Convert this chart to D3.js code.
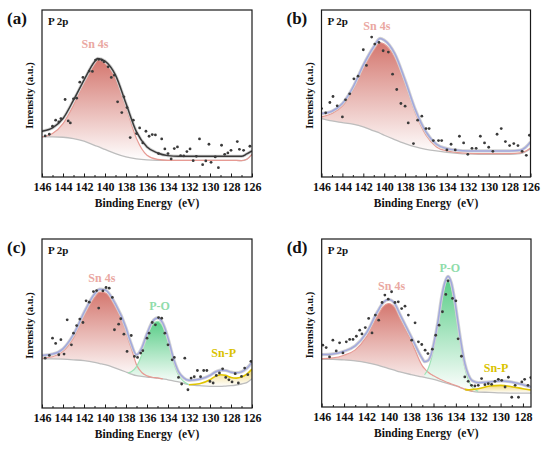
<!DOCTYPE html>
<html lang="en">
<head>
<meta charset="UTF-8">
<title>P 2p</title>
<script src="https://d3js.org/d3.v7.min.js"></script>
<style>
  body { margin: 0; background: #fff; }
  svg text { font-family: "Liberation Serif", "DejaVu Serif", serif !important; font-weight: bold; }
</style>
</head>
<body>
<svg width="550" height="450" font-family="Liberation Serif, DejaVu Serif, serif"></svg>
<script>
// ---- (a) ----
const gridA = [146,145,144,143,142,141,140.7,140,139,138,137,136,135,134,133,132,131,130,129,128,127,126.5,126];
const bgA   = [24,24,23.8,23,21.5,19,18.3,16.5,14,12,10.8,10.2,10,10,10,10,10,10,10,10,9.8,10.6,13.6];
const sn4sA = [24,26,32,43,56,67.5,70,68,59.5,42,23,13,10.5,10,10,10,10,10,10,10,9.8,10.6,13.6];
const envA  = [27.4,29.4,35,46,58,69,71,69.4,61,44,27,18,14.4,12.8,12.4,12.4,12.4,12.4,12.4,12.4,12.4,13.8,15.6];
const dotsA = [[145.7,24.6],[145.3,25.6],[145.0,30.4],[144.7,34],[144.4,33],[144.2,35],[143.8,46.4],[143.5,33.6],
  [143.3,32.4],[143.0,46.8],[142.7,47.2],[142.4,56.8],[142.1,59.6],[141.5,63.4],[141.2,63.2],[140.9,70],[140.6,70.4],
  [140.3,70],[140.1,69],[139.7,66],[139.4,59.6],[139.1,61],[138.8,45],[138.4,38.6],[138.2,48],[137.9,41.6],[137.6,23.6],
  [137.3,34],[137.0,26],[136.7,29.4],[136.4,20.4],[136.1,27.4],[135.8,24.4],[135.5,25.4],[135.2,25.2],[134.9,14],
  [134.6,22.8],[134.3,16.8],[134.0,14],[133.7,10.8],[133.4,17],[133.1,18],[132.8,12.8],[132.5,12.6],[132.2,15.2],
  [131.9,16.8],[131.6,9.8],[131.3,12.4],[131.0,22.8],[130.7,7.4],[130.4,9.6],[130.1,19.6],[129.9,8.8],[129.5,12],
  [129.2,5.6],[128.9,19],[128.6,13.6],[128.3,14.4],[128.0,16],[127.4,21.2],[127.2,16.6],[126.8,16],[126.2,18.4]];

// ---- (b) ----
const gridB = [146,145,144,143,142,141,140.4,140,139,138,137,136,135,134,133,132,131,130,129,128,127,126.5,126];
const bgB   = [35,33.6,32.6,31.6,30,27.6,26.2,25,22.4,20,18,16.6,15.6,14.8,14.2,13.8,13.6,13.6,13.6,13.6,14,15,17];
const sn4sB = [36,38,42.4,52,65,76,80.4,79.6,71.6,56,38,25,18,15.6,14.6,14.2,14,14,14,14,14.4,15.4,17.4];
const envB  = [38,39.4,44,53.6,67,78,83,82,74,58,40,27,19.6,17,16,15.6,15.6,15.6,15.6,15.6,16,17.6,21];
const dotsB = [[146.0,41],[145.6,38.4],[145.2,44.6],[144.9,48.2],[144.5,42.6],[144.0,36],[143.7,46.2],[143.3,49.8],
  [142.9,58.8],[142.5,60.4],[142.0,76.2],[141.7,66.8],[141.2,83.8],[140.9,79.6],[140.5,80.6],[140.1,75.6],[139.6,74.8],
  [139.2,61.6],[138.8,52.4],[138.4,44],[138.0,42.4],[137.7,32.4],[137.2,20],[136.8,34],[136.4,36.4],[136.0,29],
  [135.7,29],[135.3,21.8],[134.8,21.8],[134.5,21.8],[134.0,16.2],[133.6,19.6],[133.2,16.2],[132.8,24.4],[132.4,20.4],
  [132.0,13.6],[131.6,17.2],[131.2,17.2],[130.8,24.4],[130.4,20.4],[130.0,17.8],[129.6,15.4],[129.2,25.6],[128.8,29],
  [128.4,21.2],[128.0,18.8],[127.6,20],[127.2,18.8],[126.8,15.4],[126.4,13],[126.1,25]];

// ---- (c) ----
const gridC = [146,145,144,143,142,141,140.5,140,139,138,137.8,137.5,137,136.5,136,135.5,135,134.5,134,133.5,133,132.5,132,131,130,129.5,129,128.5,128,127.5,127,126.5,126];
const bgC   = [29.1,29.1,28.9,28.5,28,27,26.3,25.6,23.6,21.3,20.8,20.1,19.1,18.7,18.3,18,17.7,17.2,16.7,16,15.4,14.6,13.8,13.2,12.8,12.8,12.8,13,13.2,13.6,14.2,15,17.3];
const sn4sC = [29.5,30.3,33.5,41.5,54.5,65.5,68.6,68.2,59.5,45.5,41,35.5,25.6,21,19,18.2,17.8,17.2,
  null,null,null,null,null,null,null,null,null,null,null,null,null,null,null];
const poC   = [null,null,null,null,null,null,null,null,null,null,20.8,21.5,24.5,31.5,42,49.2,51.2,48.2,39.4,27.6,19.5,15.7,13.8,
  null,null,null,null,null,null,null,null,null,null];
const snpC  = [null,null,null,null,null,null,null,null,null,null,null,null,null,null,null,null,null,null,null,null,null,null,
  13.8,14.4,16.7,18.7,19.7,19.3,18.1,17.7,18.3,20,23];
const envC  = [31.1,31.9,35,43.5,56.5,67.4,70.3,70,61.5,47.5,43.5,38,31.5,35.5,44,51,53.3,50.3,41.5,29.8,21.5,17.8,16.4,17,19.3,21.3,22.4,22.2,21.2,20.8,21.4,23.5,27];
const dotsC = [[145.7,29.5],[145.3,31.1],[145.0,41.3],[144.7,38.2],[144.4,31.5],[144.2,40.4],[143.9,31.9],[143.6,52.2],
  [143.2,37.4],[143.0,44.3],[142.7,48.8],[142.4,52.6],[142.1,50.6],[141.8,63.4],[141.5,62.6],[141.1,68.9],[140.8,69.5],
  [140.6,59.1],[140.2,69.3],[139.9,71.3],[139.6,70.9],[139.3,65.4],[139.1,46.3],[138.7,49.6],[138.5,52.8],[138.2,43.7],
  [137.9,33.5],[137.5,42.9],[137.2,30.5],[136.9,29.9],[136.6,32.5],[136.4,33.9],[136.0,41.3],[135.8,44.3],[135.5,50.6],
  [135.2,49.2],[134.9,53.5],[134.6,53.1],[134.3,44.3],[134.0,37.4],[133.6,28.5],[133.4,29.9],[133.0,18.1],[132.7,14.2],
  [132.4,29.5],[132.1,10.8],[131.8,17.7],[131.5,18.5],[131.2,22.2],[130.9,18.5],[130.6,22.2],[130.3,22.2],[130.0,15.7],
  [129.7,14.8],[129.4,19.3],[129.1,20.7],[128.8,23.2],[128.5,18.1],[128.2,16.7],[127.9,15.4],[127.6,20.3],[127.3,14.8],
  [127.0,18.7],[126.7,23.6],[126.4,19.7],[126.1,27.6]];

// ---- (d) ----
const gridD = [146,145,144,143,142,141,140.5,140,139.5,139,138,137,136.8,136.5,136.2,136,135.6,135.3,135,134.7,134.4,134.1,133.8,133.5,133.2,132.9,132.5,132,131,130,129,128,127.3];
const bgD   = [28.4,28.4,28,27.4,26.4,24.9,23.9,22.9,21.9,20.9,19.3,17.9,17.6,17.2,16.8,16.5,15.7,15.1,14.5,13.9,13.3,12.7,12.1,11.3,10.5,9.9,9.3,8.9,8.7,8.4,8.3,8.3,8.3];
const sn4sD = [28.8,29.2,30.8,34,41.7,54.5,59.8,61.6,59.5,52.7,39.5,24.5,22.8,20.8,19.3,18.6,17.2,16.2,15.3,14.5,13.7,13,12.3,11.4,10.6,10,9.3,
  null,null,null,null,null,null];
const poD   = [null,null,null,null,null,null,null,null,null,null,null,null,
  19.2,22.5,28.5,34.5,49.5,62.5,72,75.8,71.5,61,47.5,34.2,23.5,16.5,11.6,9.3,null,null,null,null,null];
const snpD  = [null,null,null,null,null,null,null,null,null,null,null,null,null,null,null,null,null,null,null,null,null,null,null,null,
  10.5,10.2,10.5,10.9,12.5,12.9,12.1,10.9,10.1];
const envD  = [31.2,31.6,33.2,36.4,44.1,56.9,62.2,64,61.9,55.1,41.9,28.8,27,27.6,31.5,37,51,64.5,73.8,77.8,73.8,63.5,50,36.8,26,19.5,15.5,14.5,14.9,15.5,14.9,13.3,11.9];
const dotsD = [[145.9,36.8],[145.6,35.4],[145.3,29.8],[145.0,39.8],[144.7,33.4],[144.4,38.2],[144.1,32.2],[143.8,38.8],
  [143.5,40.2],[143.2,40.2],[142.9,42.1],[142.6,45.7],[142.4,43.5],[142.1,47.3],[141.8,52.7],[141.5,44.1],[141.2,54.7],
  [140.9,51.7],[140.6,62.2],[140.35,66.6],[140.05,64.2],[139.75,68.6],[139.45,62.2],[139.15,62.6],[138.85,58.6],
  [138.55,60],[138.25,54.7],[137.95,39.8],[137.65,50.1],[137.35,38.8],[137.05,37.2],[136.75,33.8],[136.5,31.8],
  [136.1,34.4],[135.8,42.7],[135.5,48.7],[135.2,56.7],[134.9,67],[134.7,75.1],[134.3,64.6],[134.0,63.2],[133.8,40.6],
  [133.5,30.2],[133.2,17.9],[132.9,15.3],[132.6,12.9],[132.3,12.5],[132.0,12.9],[131.7,16.9],[131.4,13.3],[131.1,13.9],
  [130.8,13.5],[130.5,15.3],[130.2,16.5],[129.9,15.9],[129.6,11.9],[129.3,17.7],[129.0,5.8],[128.7,12.9],[128.4,5.8],
  [128.1,14.9],[127.85,16.5],[127.55,12.9],[127.3,17.5]];

const xTickLabels = [146,144,142,140,138,136,134,132,130,128,126];

const SERIF = '"Liberation Serif", "DejaVu Serif", serif';
const PINK = {line: "#e79a93", top: "#d4776f", text: "#eaa8a2"};
const GREEN = {line: "#9ee3b6", top: "#5acd88", text: "#8fdcaa"};
const YELLOW = {line: "#e0c400", top: "#f0d880", text: "#d9c200"};

const panels = [
  {tag: "(a)", left: 42, right: 252, top: 10, bottom: 177, domain: [146, 126],
   grid: gridA, bg: bgA, env: envA, envColor: "#3a3a3a", dots: dotsA,
   peaks: [{name: "Sn 4s", values: sn4sA, c: PINK, lx: 140.95, ly: 77}]},
  {tag: "(b)", left: 321.5, right: 530.5, top: 10, bottom: 177, domain: [146, 126],
   grid: gridB, bg: bgB, env: envB, envColor: "#a2a8de", dots: dotsB,
   peaks: [{name: "Sn 4s", values: sn4sB, c: PINK, lx: 140.7, ly: 88}]},
  {tag: "(c)", left: 42, right: 252, top: 239, bottom: 408, domain: [146, 126],
   grid: gridC, bg: bgC, env: envC, envColor: "#a2a8de", dots: dotsC,
   peaks: [{name: "Sn 4s", values: sn4sC, c: PINK, lx: 140.3, ly: 74.5},
           {name: "P-O", values: poC, c: GREEN, lx: 134.8, ly: 58},
           {name: "Sn-P", values: snpC, c: YELLOW, lx: 128.7, ly: 30}]},
  {tag: "(d)", left: 321.7, right: 531, top: 239, bottom: 407, domain: [146, 127.28],
   grid: gridD, bg: bgD, env: envD, envColor: "#a2a8de", dots: dotsD,
   peaks: [{name: "Sn 4s", values: sn4sD, c: PINK, lx: 139.75, ly: 69.5},
           {name: "P-O", values: poD, c: GREEN, lx: 134.55, ly: 80.5},
           {name: "Sn-P", values: snpD, c: YELLOW, lx: 130.4, ly: 21}]}
];

const svg = d3.select("svg");
const defs = svg.append("defs");

function label(sel, size, color) {
  return sel.attr("font-size", size).attr("fill", color)
    .attr("font-family", SERIF).attr("font-weight", "bold")
    .style("font-family", SERIF).style("font-weight", "bold");
}

panels.forEach((p, pi) => {
  const x = d3.scaleLinear().domain(p.domain).range([p.left, p.right]);
  const y = d3.scaleLinear().domain([0, 100]).range([p.bottom, p.top]);
  const g = svg.append("g");

  defs.append("clipPath").attr("id", "clip" + pi)
    .append("rect")
    .attr("x", p.left).attr("y", p.top)
    .attr("width", p.right - p.left).attr("height", p.bottom - p.top);

  const plot = g.append("g").attr("clip-path", `url(#clip${pi})`);

  // filled components between the peak curve and the background
  p.peaks.forEach((pk, k) => {
    const gid = `grad${pi}_${k}`;
    const grad = defs.append("linearGradient").attr("id", gid)
      .attr("x1", 0).attr("y1", 0).attr("x2", 0).attr("y2", 1);
    grad.append("stop").attr("offset", "0%").attr("stop-color", pk.c.top);
    grad.append("stop").attr("offset", "100%").attr("stop-color", "#ffffff");

    const rows = p.grid.map((e, i) => ({e, v: pk.values[i], b: p.bg[i]}));
    const area = d3.area()
      .defined(d => d.v != null)
      .x(d => x(d.e)).y0(d => y(d.b)).y1(d => y(d.v))
      .curve(d3.curveMonotoneX);
    plot.append("path").datum(rows)
      .attr("d", area).attr("fill", `url(#${gid})`);
  });

  const line = d3.line().x(d => x(d[0])).y(d => y(d[1])).curve(d3.curveMonotoneX);

  // background
  plot.append("path").datum(p.grid.map((e, i) => [e, p.bg[i]]))
    .attr("d", line).attr("fill", "none")
    .attr("stroke", "#bdbdbd").attr("stroke-width", 1.3);

  // component outlines
  p.peaks.forEach(pk => {
    const pts = p.grid.map((e, i) => [e, pk.values[i]]).filter(d => d[1] != null);
    plot.append("path").datum(pts)
      .attr("d", line).attr("fill", "none")
      .attr("stroke", pk.c.line).attr("stroke-width", pk.c === YELLOW ? 1.6 : 1.2);
  });

  // envelope
  const envPts = p.grid.map((e, i) => [e, p.env[i]]);
  plot.append("path").datum(envPts)
    .attr("d", line).attr("fill", "none")
    .attr("stroke", "#d4d4d4").attr("stroke-width", 3.2);
  plot.append("path").datum(envPts)
    .attr("d", line).attr("fill", "none")
    .attr("stroke", p.envColor).attr("stroke-width", 1.5);

  // measured points
  plot.selectAll("circle").data(p.dots).join("circle")
    .attr("cx", d => x(d[0])).attr("cy", d => y(d[1]))
    .attr("r", 1.4).attr("fill", "#3a3a3a");

  // frame
  g.append("rect")
    .attr("x", p.left).attr("y", p.top)
    .attr("width", p.right - p.left).attr("height", p.bottom - p.top)
    .attr("fill", "none").attr("stroke", "#1a1a1a").attr("stroke-width", 1.2);

  // x axis: inward ticks
  const major = xTickLabels.filter(v => v <= p.domain[0] && v >= p.domain[1]);
  const minor = d3.range(145, 126, -2).filter(v => v >= p.domain[1]);
  const ax = g.append("g").attr("transform", `translate(0,${p.bottom})`)
    .call(d3.axisBottom(x).tickValues(major).tickSize(-3.5).tickPadding(5).tickFormat(d3.format("d")));
  ax.attr("font-family", SERIF);
  ax.select(".domain").remove();
  ax.selectAll("line").attr("stroke", "#1a1a1a");
  label(ax.selectAll("text"), 12, "#111");
  const axm = g.append("g").attr("transform", `translate(0,${p.bottom})`)
    .call(d3.axisBottom(x).tickValues(minor).tickSize(-2).tickFormat(""));
  axm.select(".domain").remove();
  axm.selectAll("line").attr("stroke", "#1a1a1a");

  // texts
  const cx = (p.left + p.right) / 2;
  label(g.append("text"), 11.5, "#111")
    .attr("x", cx).attr("y", p.bottom + 30)
    .attr("text-anchor", "middle").style("white-space", "pre")
    .text("Binding Energy  (eV)");
  label(g.append("text"), 10.5, "#111")
    .attr("transform", `translate(${p.left - 9},${(p.top + p.bottom) / 2 + 2}) rotate(-90)`)
    .attr("text-anchor", "middle")
    .text("Inrensity (a.u.)");
  label(g.append("text"), 17, "#111")
    .attr("x", p.left - 35).attr("y", p.top + 14).text(p.tag);
  label(g.append("text"), 11, "#111")
    .attr("x", p.left + 6).attr("y", p.top + 15).text("P 2p");

  p.peaks.forEach(pk => {
    label(g.append("text"), 12, pk.c.text)
      .attr("x", x(pk.lx)).attr("y", y(pk.ly))
      .attr("text-anchor", "middle")
      .text(pk.name);
  });
});
</script>
</body>
</html>
